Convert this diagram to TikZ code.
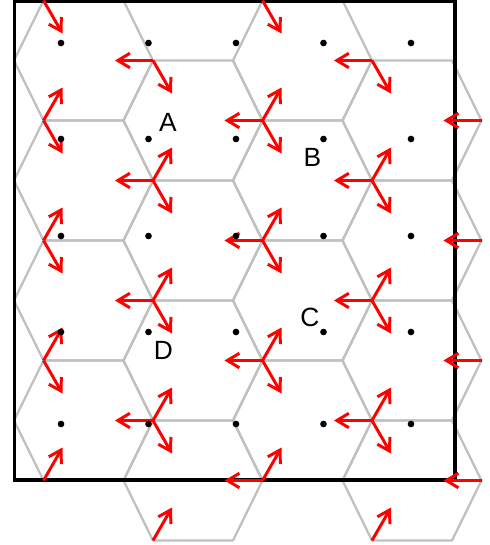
\documentclass[tikz,border=0pt]{standalone}
\usepackage{fontspec}
\setmainfont{Liberation Sans}
\usepackage{xcolor}
\usetikzlibrary{arrows.meta}

\definecolor{hexgray}{RGB}{192,192,192}

\begin{document}
\begin{tikzpicture}[
    x=0.02cm, y=-0.02cm,
    hexline/.style={draw=hexgray, line width=1.3pt, line join=round},
    frame/.style={draw=black, line width=1.9pt},
    spin/.style={-{Straight Barb[length=2.4mm, width=2.9mm]}, draw=red, line width=1.7pt},
    site/.style={fill=black},
    lbl/.style={font=\fontsize{15}{18}\selectfont, inner sep=0pt},
]
    \useasboundingbox (0,0) rectangle (490,545);

    % hexagonal cells
    \foreach \cx in {83.5,302.5}
        \foreach \cy in {60.5,180.5,300.5,420.5}
            \draw[hexline] (\cx-40,\cy-60) -- ++(80,0) -- ++(29.5,60) -- ++(-29.5,60) -- ++(-80,0) -- ++(-29.5,-60) -- cycle;
    \foreach \cx in {193,412}
        \foreach \cy in {120.5,240.5,360.5,480.5}
            \draw[hexline] (\cx-40,\cy-60) -- ++(80,0) -- ++(29.5,60) -- ++(-29.5,60) -- ++(-80,0) -- ++(-29.5,-60) -- cycle;

    \draw[frame] (14.5,1.5) rectangle (455,480);

    % spins, pointing left
    \foreach \y in {60.5,180.5,300.5,420.5}
        \foreach \x in {153,372}
            \draw[spin] (\x,\y) -- ++(-38,0);
    \foreach \y in {120.5,240.5,360.5,480.5}
        \foreach \x in {262.5,481.5}
            \draw[spin] (\x,\y) -- ++(-38,0);

    % spins, up-right
    \foreach \y in {120.5,240.5,360.5,480.5}
        \foreach \x in {43.5,262.5}
            \draw[spin] (\x,\y) -- ++(19,-33);
    \foreach \y in {180.5,300.5,420.5,540.5}
        \foreach \x in {153,372}
            \draw[spin] (\x,\y) -- ++(19,-33);

    % spins, down-right
    \foreach \y in {0.5,120.5,240.5,360.5}
        \foreach \x in {43.5,262.5}
            \draw[spin] (\x,\y) -- ++(19,33);
    \foreach \y in {60.5,180.5,300.5,420.5}
        \foreach \x in {153,372}
            \draw[spin] (\x,\y) -- ++(19,33);

    % lattice sites
    \foreach \x in {61,148.5,236,323.5,411}
        \foreach \y in {43,139,236,332,424}
            \fill[site] (\x,\y) circle (1.9pt);

    \node[lbl] (A) at (168,122) {A};
    \node[lbl] (B) at (312.5,157) {B};
    \node[lbl] (C) at (310,317) {C};
    \node[lbl] (D) at (163.5,350.5) {D};
\end{tikzpicture}
\end{document}
